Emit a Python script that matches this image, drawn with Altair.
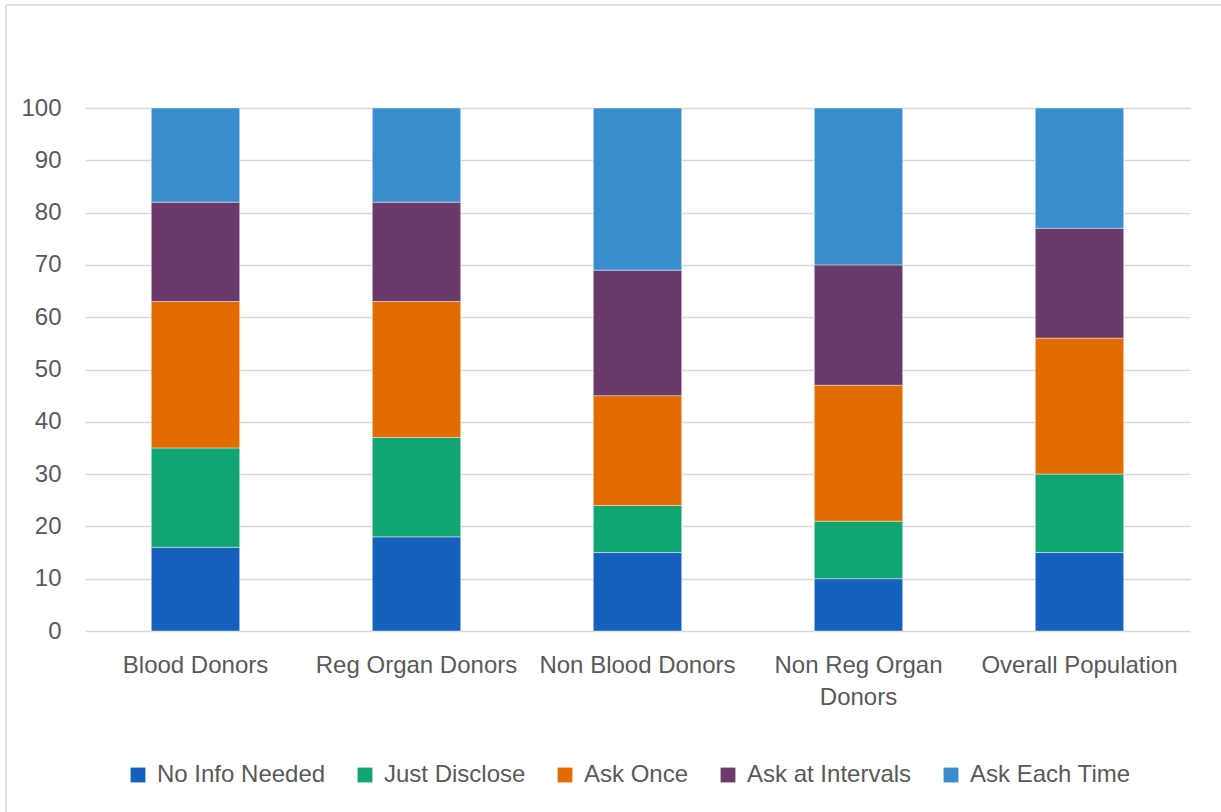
import altair as alt
import pandas as pd

# Groups on the x axis (the "\n" marks where a long label wraps)
groups = ["Blood Donors", "Reg Organ Donors", "Non Blood Donors",
          "Non Reg Organ\nDonors", "Overall Population"]

# Response categories, bottom of the stack first
responses = ["No Info Needed", "Just Disclose", "Ask Once",
             "Ask at Intervals", "Ask Each Time"]
colors = ["#1560BD", "#12A574", "#E36C00", "#6A3A6A", "#3A8ECD"]

# Percentage of each group per response category
no_info_needed = [16, 18, 15, 10, 15]
just_disclose = [19, 19, 9, 11, 15]
ask_once = [28, 26, 21, 26, 26]
ask_at_intervals = [19, 19, 24, 23, 21]
ask_each_time = [18, 18, 31, 30, 23]

series = [no_info_needed, just_disclose, ask_once, ask_at_intervals, ask_each_time]

rows = []
for k, (name, vals) in enumerate(zip(responses, series)):
    for g, v in zip(groups, vals):
        rows.append({"group": g, "response": name, "value": v, "order": k})
df = pd.DataFrame(rows)

FONT = "Liberation Sans"
TEXT = "#595959"
GRID = "#D9D9D9"

bars = alt.Chart(df).mark_bar(stroke="white", strokeWidth=0.6, strokeOpacity=0.7).encode(
    x=alt.X(
        "group:N",
        sort=groups,
        title=None,
        scale=alt.Scale(paddingInner=0.6, paddingOuter=0.3),
        axis=alt.Axis(
            labelAngle=0,
            labelExpr="split(datum.label, '\\n')",
            labelFont=FONT,
            labelFontSize=24,
            labelColor=TEXT,
            labelPadding=22,
            labelLineHeight=32,
            labelBaseline="top",
            labelLimit=400,
            ticks=False,
            domain=False,
            grid=False,
        ),
    ),
    y=alt.Y(
        "value:Q",
        stack="zero",
        title=None,
        scale=alt.Scale(domain=[0, 100], nice=False),
        axis=alt.Axis(
            values=list(range(0, 101, 10)),
            labelFont=FONT,
            labelFontSize=24,
            labelColor=TEXT,
            labelPadding=24,
            ticks=False,
            domain=False,
            grid=True,
            gridColor=GRID,
            gridWidth=1.3,
        ),
    ),
    color=alt.Color(
        "response:N",
        sort=responses,
        scale=alt.Scale(domain=responses, range=colors),
        legend=alt.Legend(
            title=None,
            orient="none",
            direction="horizontal",
            columns=5,
            legendX=41,
            legendY=655,
            symbolType="square",
            symbolSize=220,
            symbolStrokeWidth=0,
            symbolOpacity=1,
            labelFont=FONT,
            labelFontSize=24,
            labelColor=TEXT,
            labelOffset=7,
            labelLimit=400,
            columnPadding=27,
            padding=0,
        ),
    ),
    order=alt.Order("order:Q", sort="ascending"),
)

# Light frame around the chart (left and top edges)
frame_data = alt.Data(values=[{"k": 0}])
frame_left = alt.Chart(frame_data).mark_rule(color=GRID, strokeWidth=1.5).encode(
    x=alt.value(-79), y=alt.value(-103), y2=alt.value(720)
)
frame_top = alt.Chart(frame_data).mark_rule(color=GRID, strokeWidth=1.5).encode(
    x=alt.value(-79), x2=alt.value(1150), y=alt.value(-103)
)

chart = alt.layer(bars, frame_left, frame_top).properties(
    width=1105,
    height=523,
    autosize=alt.AutoSizeParams(type="none"),
    padding={"left": 85, "top": 108, "right": 31, "bottom": 181},
    background="white",
).configure_view(stroke=None)

chart.save("out.html", embed_options={"renderer": "svg", "actions": False})
